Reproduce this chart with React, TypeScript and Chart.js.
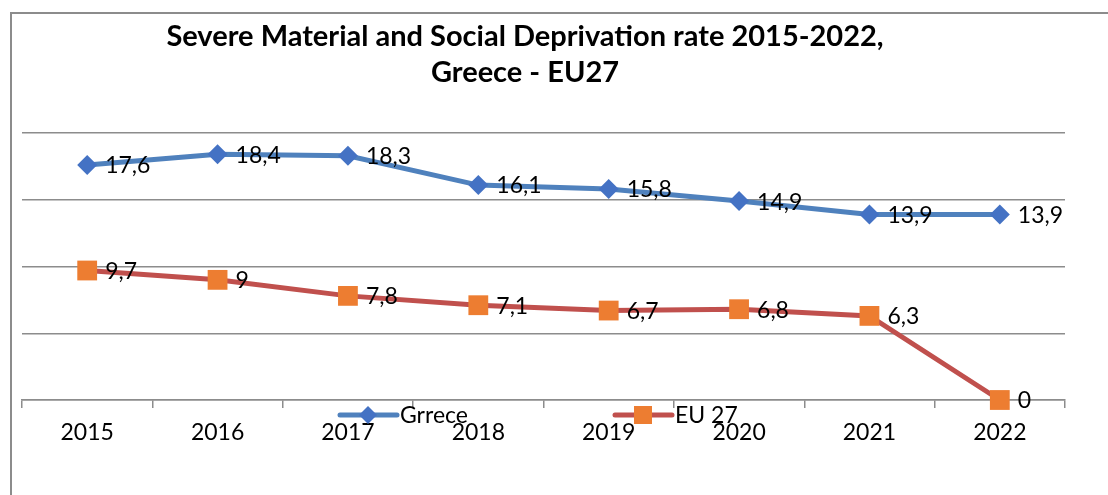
import React, { useEffect, useRef } from "react";
import { Chart, registerables } from "chart.js";

Chart.register(...registerables);

const years = ["2015", "2016", "2017", "2018", "2019", "2020", "2021", "2022"];
const greece = [17.6, 18.4, 18.3, 16.1, 15.8, 14.9, 13.9, 13.9];
const eu27 = [9.7, 9, 7.8, 7.1, 6.7, 6.8, 6.3, 0];
const seriesNames = ["Grrece", "EU 27"];
const titleLines = ["Severe Material and Social Deprivation rate 2015-2022,", "Greece - EU27"];
const yMin = 0;
const yMax = 20;
const yStep = 5;

const FONT = "Lato, 'Open Sans', sans-serif";
const GR_LINE = "#4F81BD";
const GR_MARK = "#4472C4";
const EU_LINE = "#C0504D";
const EU_MARK = "#ED7D31";
const GRID = "#8c8c8c";

const fmt = (v: number) => String(v).replace(".", ",");

const framePlugin = {
  id: "frame",
  beforeDraw(chart: any) {
    const ctx = chart.ctx;
    ctx.save();
    ctx.strokeStyle = GRID;
    ctx.lineWidth = 2;
    ctx.beginPath();
    ctx.moveTo(11, chart.height);
    ctx.lineTo(11, 13);
    ctx.lineTo(chart.width, 13);
    ctx.stroke();
    ctx.restore();
  },
};

const titlePlugin = {
  id: "customTitle",
  afterDraw(chart: any) {
    const ctx = chart.ctx;
    ctx.save();
    ctx.fillStyle = "#000";
    ctx.font = `bold 29px ${FONT}`;
    ctx.textAlign = "center";
    ctx.textBaseline = "alphabetic";
    ctx.fillText(titleLines[0], 525, 46);
    ctx.fillText(titleLines[1], 525, 82);
    ctx.restore();
  },
};

const labelPlugin = {
  id: "pointLabels",
  afterDatasetsDraw(chart: any) {
    const ctx = chart.ctx;
    ctx.save();
    ctx.fillStyle = "#000";
    ctx.font = `23px ${FONT}`;
    ctx.textAlign = "left";
    ctx.textBaseline = "middle";
    chart.data.datasets.forEach((ds: any, i: number) => {
      const meta = chart.getDatasetMeta(i);
      meta.data.forEach((pt: any, j: number) => {
        ctx.fillText(fmt(ds.data[j]), pt.x + 18, pt.y + 1);
      });
    });
    ctx.restore();
  },
};

function drawMarker(ctx: CanvasRenderingContext2D, style: string, x: number, y: number, r: number, color: string) {
  ctx.fillStyle = color;
  ctx.beginPath();
  if (style === "rectRot") {
    ctx.moveTo(x, y - r);
    ctx.lineTo(x + r, y);
    ctx.lineTo(x, y + r);
    ctx.lineTo(x - r, y);
    ctx.closePath();
  } else {
    ctx.rect(x - r, y - r, 2 * r, 2 * r);
  }
  ctx.fill();
}

const legendPlugin = {
  id: "customLegend",
  afterDraw(chart: any) {
    const ctx = chart.ctx;
    const items = [
      { x0: 340, x1: 397, mx: 368, tx: 400, style: "rectRot", r: 9 },
      { x0: 615, x1: 672, mx: 643, tx: 675, style: "rect", r: 9 },
    ];
    const y = 415;
    ctx.save();
    items.forEach((it, i) => {
      const ds = chart.data.datasets[i];
      ctx.strokeStyle = ds.borderColor;
      ctx.lineWidth = 5;
      ctx.lineCap = "round";
      ctx.beginPath();
      ctx.moveTo(it.x0, y);
      ctx.lineTo(it.x1, y);
      ctx.stroke();
      drawMarker(ctx, it.style, it.mx, y, it.r, ds.pointBackgroundColor);
      ctx.fillStyle = "#000";
      ctx.font = `23px ${FONT}`;
      ctx.textAlign = "left";
      ctx.textBaseline = "alphabetic";
      ctx.fillText(seriesNames[i], it.tx, 423);
    });
    ctx.restore();
  },
};

export default function App() {
  const ref = useRef<HTMLCanvasElement>(null);

  useEffect(() => {
    if (!ref.current) return;
    const chart = new Chart(ref.current, {
      type: "line",
      data: {
        labels: years,
        datasets: [
          {
            label: seriesNames[0],
            data: greece,
            borderColor: GR_LINE,
            backgroundColor: GR_MARK,
            pointBackgroundColor: GR_MARK,
            pointBorderColor: GR_MARK,
            pointBorderWidth: 0,
            pointStyle: "rectRot",
            pointRadius: 10,
            borderWidth: 5,
            tension: 0,
            clip: false,
          },
          {
            label: seriesNames[1],
            data: eu27,
            borderColor: EU_LINE,
            backgroundColor: EU_MARK,
            pointBackgroundColor: EU_MARK,
            pointBorderColor: EU_MARK,
            pointBorderWidth: 0,
            pointStyle: "rect",
            pointRadius: 14,
            borderWidth: 5,
            tension: 0,
            clip: false,
          },
        ],
      },
      options: {
        responsive: false,
        animation: false,
        layout: { padding: { left: 22, right: 43, top: 133, bottom: 0 } },
        plugins: {
          legend: { display: false },
          title: { display: false },
          tooltip: { enabled: false },
        },
        scales: {
          x: {
            offset: true,
            grid: {
              offset: true,
              drawOnChartArea: false,
              drawTicks: true,
              tickLength: 8,
              color: GRID,
              lineWidth: 1.5,
            },
            border: { display: true, color: GRID, width: 1.5 },
            ticks: {
              color: "#000",
              font: { family: FONT, size: 23 },
              padding: 11,
              maxRotation: 0,
            },
            afterFit: (scale: any) => {
              scale.height = 95;
            },
          },
          y: {
            min: yMin,
            max: yMax,
            ticks: { display: false, stepSize: yStep },
            grid: { color: GRID, lineWidth: 1.5, drawTicks: false },
            border: { display: false },
            afterFit: (scale: any) => {
              scale.width = 0;
            },
          },
        },
      },
      plugins: [framePlugin, labelPlugin, legendPlugin, titlePlugin],
    });
    return () => chart.destroy();
  }, []);

  return (
    <div style={{ position: "fixed", left: 0, top: 0, width: 1108, height: 495, background: "#fff" }}>
      <canvas ref={ref} width={1108} height={495} style={{ width: 1108, height: 495 }} />
    </div>
  );
}
